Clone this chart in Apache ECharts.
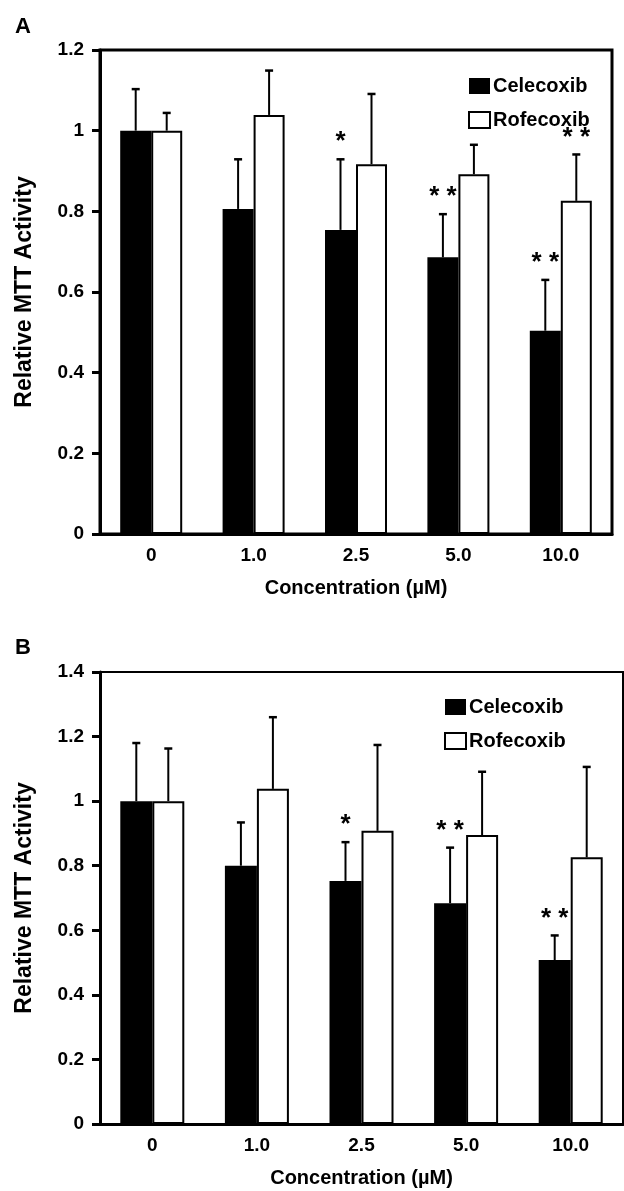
<!DOCTYPE html>
<html>
<head>
<meta charset="utf-8">
<script src="https://cdn.jsdelivr.net/npm/echarts@6/dist/echarts.min.js"></script>
<style>
html,body{margin:0;padding:0;background:#fff;}
#chart{width:624px;height:1191px;}
</style>
</head>
<body>
<div id="chart"></div>
<script>
// ---- data ----
const categories = ['0', '1.0', '2.5', '5.0', '10.0'];
const seriesNames = ['Celecoxib', 'Rofecoxib'];

// Panel A
const celA = [1.0, 0.806, 0.754, 0.686, 0.504];
const celErrA = [0.103, 0.123, 0.175, 0.107, 0.126];
const rofA = [1.0, 1.039, 0.917, 0.892, 0.826];
const rofErrA = [0.044, 0.110, 0.174, 0.073, 0.115];
const starsCelA = ['', '', '*', '* *', '* *'];
const starsRofA = ['', '', '', '', '* *'];
const yMaxA = 1.2;

// Panel B
const celB = [1.0, 0.80, 0.753, 0.684, 0.508];
const celErrB = [0.180, 0.134, 0.120, 0.172, 0.076];
const rofB = [1.0, 1.038, 0.908, 0.895, 0.826];
const rofErrB = [0.163, 0.222, 0.266, 0.196, 0.280];
const starsCelB = ['', '', '*', '* *', '* *'];
const starsRofB = ['', '', '', '', ''];
const yMaxB = 1.4;

const yInterval = 0.2;

// ---- styles ----
const FONT = '"Liberation Sans", Arial, Helvetica, sans-serif';
const barW = [31, 32];

function errSeries(name, gridIdx, means, errs, stars, side) {
  return {
    type: 'custom',
    name: name + ' err',
    xAxisIndex: gridIdx, yAxisIndex: gridIdx,
    z: 5,
    silent: true,
    data: means.map((m, i) => [i, m, errs[i]]),
    renderItem: function (params, api) {
      const i = api.value(0), m = api.value(1), e = api.value(2);
      const base = api.coord([i, m]);
      const top = api.coord([i, m + e]);
      const x = base[0] + side * barW[gridIdx] / 2;
      const children = [
        { type: 'line', shape: { x1: x, y1: base[1], x2: x, y2: top[1] },
          style: { stroke: '#000', lineWidth: 2 } },
        { type: 'line', shape: { x1: x - 4, y1: top[1], x2: x + 4, y2: top[1] },
          style: { stroke: '#000', lineWidth: 2.5 } }
      ];
      const s = stars[params.dataIndex];
      if (s) {
        children.push({ type: 'text', x: x, y: top[1] - 4,
          style: { text: s, fill: '#000', font: 'bold 26px ' + FONT,
                   textAlign: 'center', textVerticalAlign: 'bottom' } });
      }
      return { type: 'group', children: children };
    }
  };
}

function barSeries(name, gridIdx, vals, isCel) {
  return {
    type: 'bar', name: name,
    xAxisIndex: gridIdx, yAxisIndex: gridIdx,
    barWidth: barW[gridIdx], barGap: '0%',
    data: vals,
    itemStyle: isCel ? { color: '#000', borderColor: '#000', borderWidth: 0 }
                     : { color: '#fff', borderColor: '#000', borderWidth: 2 },
    silent: true
  };
}

function xAxis(gridIdx) {
  return {
    type: 'category', gridIndex: gridIdx, data: categories,
    boundaryGap: true,
    axisLine: { lineStyle: { color: '#000', width: 3 } },
    axisTick: { show: false },
    axisLabel: { color: '#000', fontSize: 19, fontWeight: 'bold', fontFamily: FONT, margin: 12 },
    name: 'Concentration (\u00b5M)', nameLocation: 'middle', nameGap: 44,
    nameTextStyle: { color: '#000', fontSize: 20, fontWeight: 'bold', fontFamily: FONT }
  };
}
function yAxis(gridIdx, max) {
  return {
    type: 'value', gridIndex: gridIdx, min: 0, max: max, interval: yInterval,
    axisLine: { show: true, lineStyle: { color: '#000', width: 3 } },
    axisTick: { show: true, length: 8, lineStyle: { color: '#000', width: 3 } },
    splitLine: { show: false },
    axisLabel: { color: '#000', fontSize: 19, fontWeight: 'bold', fontFamily: FONT, margin: 16 },
    name: 'Relative MTT Activity', nameLocation: 'middle', nameGap: 64, nameRotate: 90,
    nameTextStyle: { color: '#000', fontSize: 23, fontWeight: 'bold', fontFamily: FONT }
  };
}
function legend(left, top) {
  return {
    left: left, top: top, orient: 'vertical', padding: 0,
    itemWidth: 21, itemHeight: 16, itemGap: 14,
    selectedMode: false,
    data: seriesNames.map(n => ({ name: n, icon: 'rect' })),
    textStyle: { color: '#000', fontSize: 20, fontWeight: 'bold', fontFamily: FONT, padding: [0, 0, 0, -2] }
  };
}

const option = {
  animation: false,
  backgroundColor: '#fff',
  title: [
    { text: 'A', left: 10, top: 11, textStyle: { color: '#000', fontSize: 22, fontWeight: 'bold', fontFamily: FONT } },
    { text: 'B', left: 10, top: 632, textStyle: { color: '#000', fontSize: 22, fontWeight: 'bold', fontFamily: FONT } }
  ],
  grid: [
    { left: 100, top: 50, width: 512, height: 484, show: true, borderColor: '#000', borderWidth: 3, backgroundColor: 'transparent' },
    { left: 100, top: 672, width: 523, height: 452, show: true, borderColor: '#000', borderWidth: 2, backgroundColor: 'transparent' }
  ],
  legend: [legend(468, 76), legend(444, 697)],
  xAxis: [xAxis(0), xAxis(1)],
  yAxis: [yAxis(0, yMaxA), yAxis(1, yMaxB)],
  series: [
    barSeries('Celecoxib', 0, celA, true),
    barSeries('Rofecoxib', 0, rofA, false),
    errSeries('Celecoxib', 0, celA, celErrA, starsCelA, -1),
    errSeries('Rofecoxib', 0, rofA, rofErrA, starsRofA, 1),
    barSeries('Celecoxib', 1, celB, true),
    barSeries('Rofecoxib', 1, rofB, false),
    errSeries('Celecoxib', 1, celB, celErrB, starsCelB, -1),
    errSeries('Rofecoxib', 1, rofB, rofErrB, starsRofB, 1)
  ]
};

const chart = echarts.init(document.getElementById('chart'), null, { renderer: 'canvas' });
chart.setOption(option);
</script>
</body>
</html>
